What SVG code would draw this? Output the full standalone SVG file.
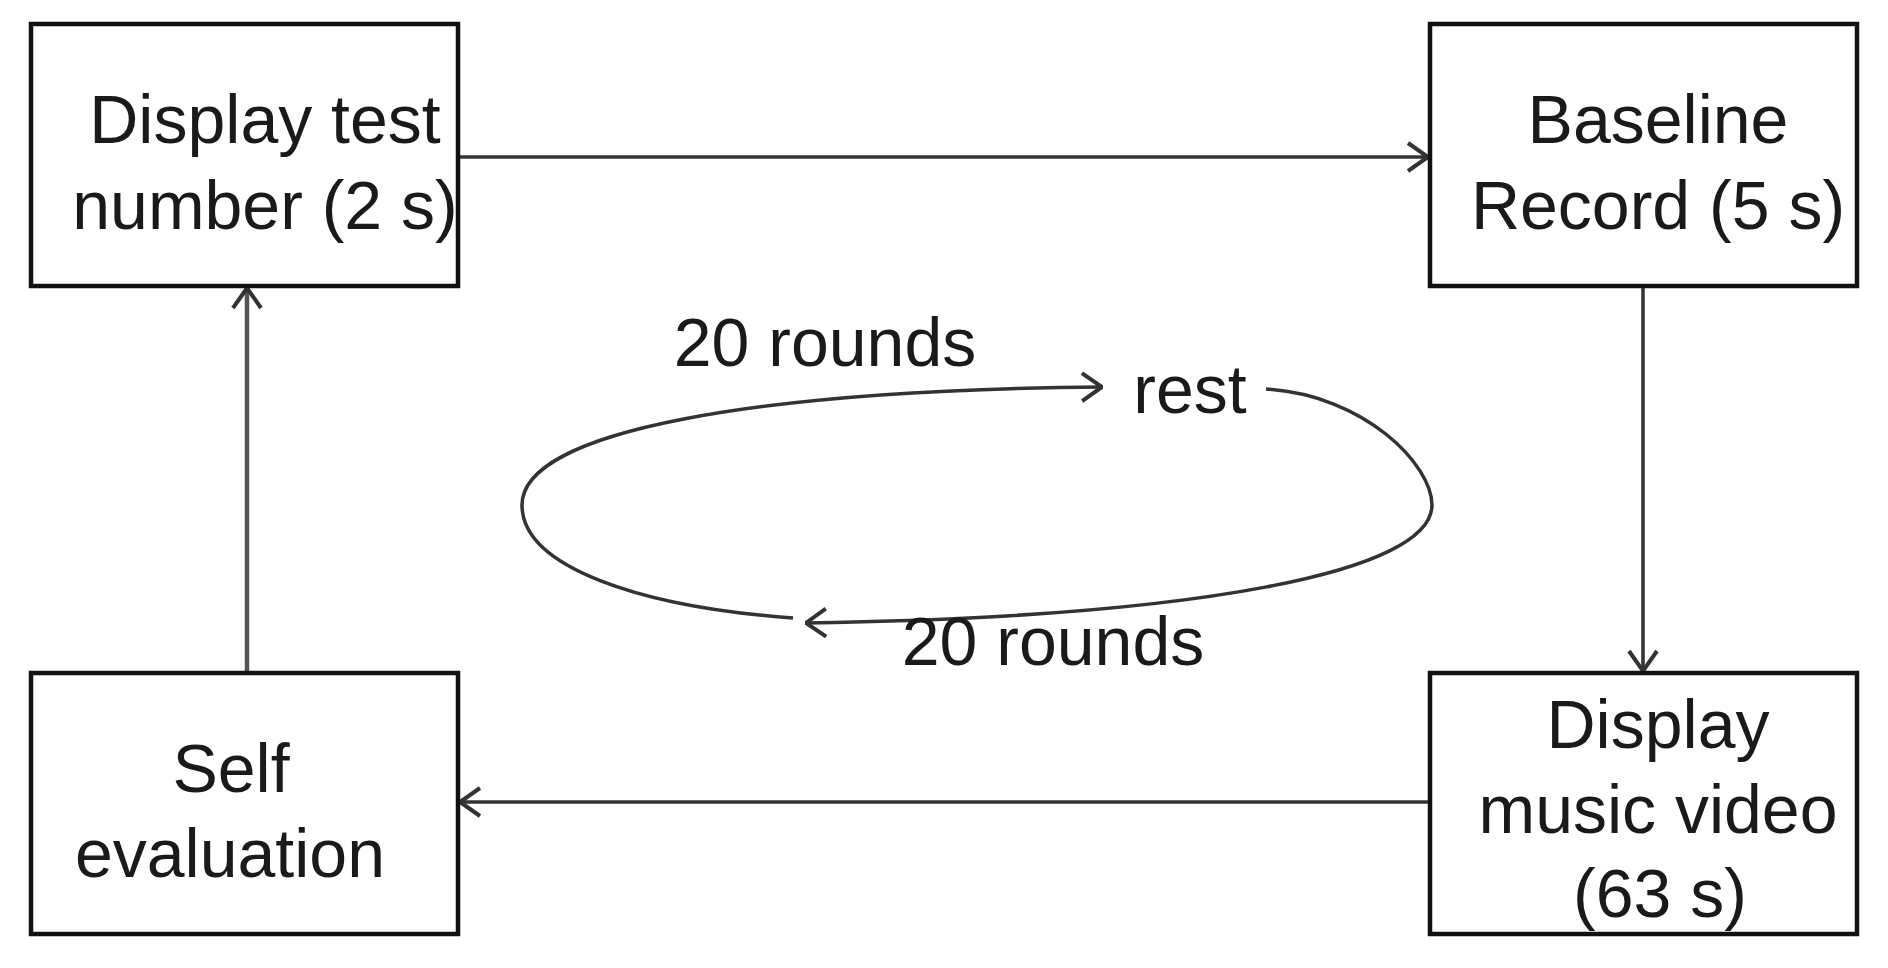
<svg xmlns="http://www.w3.org/2000/svg" width="1888" height="968" viewBox="0 0 1888 968">
<style>
.box{fill:#fff;stroke:#111;stroke-width:4.5}
.t{font-family:"Liberation Sans",Arial,sans-serif;font-size:68px;fill:#1a1a1a;text-anchor:middle}
.c{fill:none;stroke:#333;stroke-width:3.5}
</style>
<defs>
<marker id="ah" viewBox="0 0 24 32" refX="23" refY="16" markerWidth="24" markerHeight="32" markerUnits="userSpaceOnUse" orient="auto">
<path d="M3,2 L23,16 L3,30" fill="none" stroke="#333" stroke-width="4"/>
</marker>
</defs>
<rect width="1888" height="968" fill="#fff"/>
<g id="connectors">
<line class="c" x1="458" y1="157" x2="1428" y2="157" marker-end="url(#ah)"/>
<line class="c" x1="1643" y1="286" x2="1643" y2="671" marker-end="url(#ah)"/>
<line class="c" x1="1430" y1="802" x2="460" y2="802" marker-end="url(#ah)"/>
<line class="c" x1="247" y1="673" x2="247" y2="288" marker-end="url(#ah)" style="stroke:#555;stroke-width:4.5"/>
<path class="c" d="M793,618 C640,607 522,567 522,505 C522,430 760,390 1102,387" marker-end="url(#ah)"/>
<path class="c" d="M1266,389 C1365,395 1432,465 1432,505 C1432,572 1200,617 806,623" marker-end="url(#ah)"/>
</g>
<g id="n1">
<rect class="box" x="31" y="24" width="427" height="262"/>
<text class="t" x="265" y="143">Display test</text>
<text class="t" x="265" y="229">number (2 s)</text>
</g>
<g id="n2">
<rect class="box" x="1430" y="24" width="427" height="262"/>
<text class="t" x="1658" y="143">Baseline</text>
<text class="t" x="1658" y="229">Record (5 s)</text>
</g>
<g id="n3">
<rect class="box" x="1430" y="673" width="427" height="261"/>
<text class="t" x="1658" y="748">Display</text>
<text class="t" x="1658" y="833">music video</text>
<text class="t" x="1660" y="917">(63 s)</text>
</g>
<g id="n4">
<rect class="box" x="31" y="673" width="427" height="261"/>
<text class="t" x="231" y="792">Self</text>
<text class="t" x="230" y="877">evaluation</text>
</g>
<g id="labels">
<text class="t" x="825" y="366">20 rounds</text>
<text class="t" x="1190" y="413">rest</text>
<text class="t" x="1053" y="665">20 rounds</text>
</g>
</svg>
